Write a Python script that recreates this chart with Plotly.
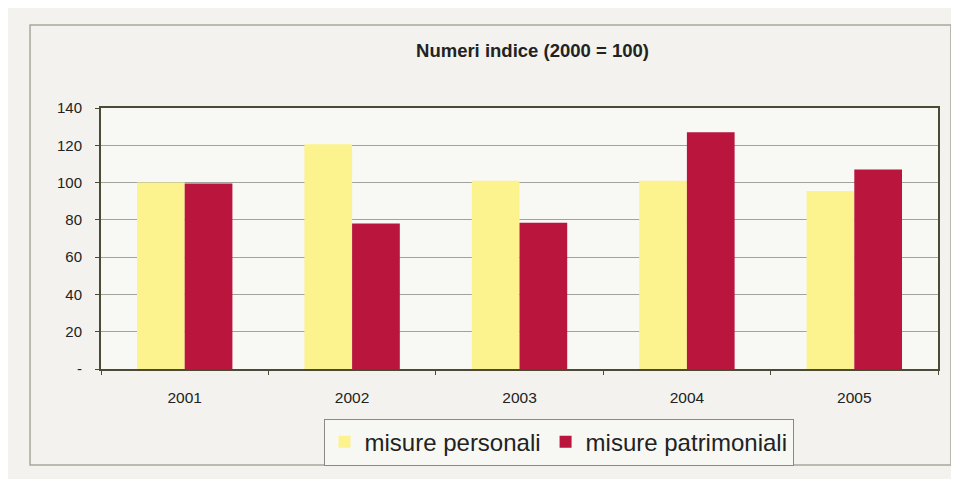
import plotly.graph_objects as go

# ─────────────────────────────────────────────────────────────────
# DATA
# ─────────────────────────────────────────────────────────────────
years = ["2001", "2002", "2003", "2004", "2005"]
misure_personali = [100, 120.5, 101, 101, 95.5]
misure_patrimoniali = [99.5, 78, 78.5, 127, 107]
y_ticks = [0, 20, 40, 60, 80, 100, 120, 140]
y_tick_labels = ["-", "20", "40", "60", "80", "100", "120", "140"]

YELLOW = "#fcf38f"
RED = "#b9153d"
FRAME = "#4b4a35"

fig = go.Figure()
fig.add_trace(go.Bar(x=years, y=misure_personali, name="misure personali",
                     marker=dict(color=YELLOW, line_width=0)))
fig.add_trace(go.Bar(x=years, y=misure_patrimoniali, name="misure patrimoniali",
                     marker=dict(color=RED, line_width=0)))

# page body has an 8px margin, so the figure is sized 951x471
fig.update_layout(
    width=951, height=471,
    margin=dict(l=93, r=21, t=100, b=110),
    paper_bgcolor="#f3f2ee", plot_bgcolor="#f8f8f5",
    font=dict(family="Arial, Liberation Sans, sans-serif", color="#222222"),
    title=dict(text="<b>Numeri indice (2000 = 100)</b>", x=0.5155, xanchor="center",
               xref="paper", y=0.909, yanchor="middle", font=dict(size=18.5)),
    barmode="group", bargap=0.43, bargroupgap=0.0,
    showlegend=True,
    legend=dict(orientation="h", x=0.5466, xanchor="center", y=-0.19, yanchor="top",
                font=dict(size=24), bgcolor="#f7f7f4", bordercolor="#8a8a80",
                borderwidth=1, itemwidth=30, tracegroupgap=0),
    xaxis=dict(showline=True, linecolor=FRAME, linewidth=2, mirror=True,
               ticks="outside", tickson="boundaries", ticklen=4, tickcolor=FRAME,
               tickfont=dict(size=15.5), ticklabelstandoff=13, showgrid=False),
    yaxis=dict(range=[0, 140], tickvals=y_ticks, ticktext=y_tick_labels,
               showline=True, linecolor=FRAME, linewidth=2, mirror=True,
               ticks="outside", ticklen=4, tickcolor=FRAME,
               gridcolor="#a2a29c", gridwidth=1, tickfont=dict(size=15),
               ticklabelstandoff=10, zeroline=False),
)

# outer chart frame
fig.add_shape(type="rect", xref="paper", yref="paper",
              x0=-0.0848, x1=1.0155, y0=-0.368, y1=1.318,
              line=dict(color="#a8a89a", width=1.5), fillcolor="rgba(0,0,0,0)",
              layer="below")

fig.write_html("out.html")
